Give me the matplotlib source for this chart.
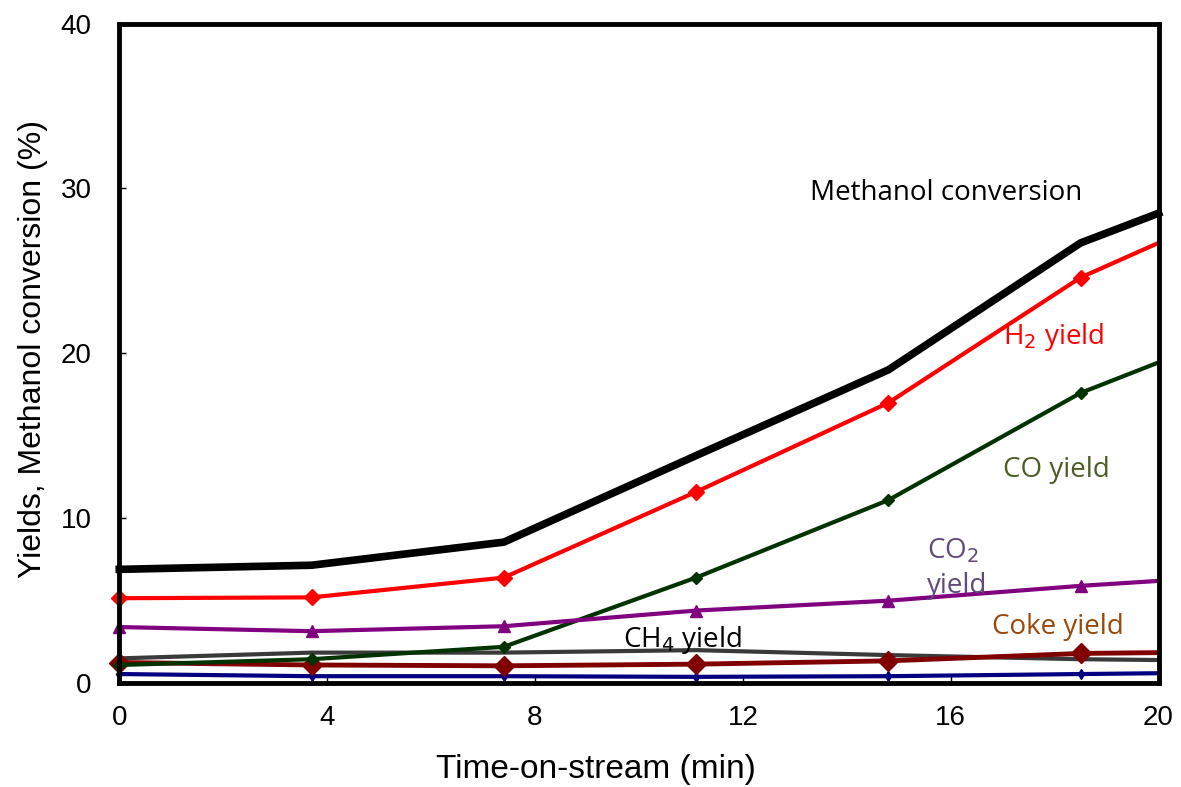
import matplotlib
matplotlib.use('Agg')
import matplotlib.pyplot as plt

# Time-on-stream (min); last point sits on the right edge of the axis
time_min = [0, 3.7, 7.4, 11.1, 14.8, 18.5, 20]

methanol_conv = [6.9, 7.15, 8.55, 13.8, 19.0, 26.7, 28.5]
h2_yield = [5.15, 5.2, 6.4, 11.6, 17.0, 24.6, 26.7]
co_yield = [1.1, 1.45, 2.2, 6.4, 11.1, 17.6, 19.45]
co2_yield = [3.4, 3.15, 3.45, 4.4, 5.0, 5.9, 6.2]
ch4_yield = [1.5, 1.85, 1.85, 2.0, 1.7, 1.45, 1.4]
coke_yield = [1.25, 1.1, 1.05, 1.15, 1.35, 1.8, 1.85]
other_yield = [0.55, 0.42, 0.42, 0.38, 0.42, 0.55, 0.6]

marks = list(range(len(time_min) - 1))

fig = plt.figure(figsize=(11.81, 7.87), dpi=100)
ax = fig.add_axes([0.101, 0.132, 0.880, 0.838])

ax.plot(time_min, other_yield, color='#000080', lw=3, marker='d', ms=5, markevery=marks, clip_on=False)
ax.plot(time_min, ch4_yield, color='#3a3a3a', lw=3, clip_on=False)
ax.plot(time_min, coke_yield, color='#800000', lw=3.5, marker='D', ms=10, markevery=marks, clip_on=False)
ax.plot(time_min, co_yield, color='#003300', lw=3, marker='D', ms=6, markevery=marks, clip_on=False)
ax.plot(time_min, co2_yield, color='#800080', lw=3, marker='^', ms=9, markevery=marks, clip_on=False)
ax.plot(time_min, h2_yield, color='#ff0000', lw=3, marker='D', ms=8, markevery=marks, clip_on=False)
ax.plot(time_min, methanol_conv, color='black', lw=5.5, clip_on=False)

ax.set_xlim(0, 20)
ax.set_ylim(0, 40)
ax.set_xticks([0, 4, 8, 12, 16, 20])
ax.set_yticks([0, 10, 20, 30, 40])

for s in ax.spines.values():
    s.set_linewidth(3.5)
ax.tick_params(axis='both', direction='in', length=5, width=1, labelsize=20)
ax.tick_params(axis='x', pad=16)
ax.tick_params(axis='y', pad=20)
for lbl in ax.get_xticklabels() + ax.get_yticklabels():
    lbl.set_family('Liberation Sans')

ax.set_xlabel('Time-on-stream (min)', fontsize=24, family='Liberation Sans')
ax.xaxis.set_label_coords(0.459, -0.108)
ax.set_ylabel('Yields, Methanol conversion (%)', fontsize=23, family='Liberation Sans')
ax.yaxis.set_label_coords(-0.069, 0.506)

lab = dict(fontsize=20, family='Open Sans')
ax.text(13.3, 29.75, 'Methanol conversion', color='black', ha='left', va='center', **lab)
ax.text(17.0, 21.0, 'H$_2$ yield', color='#ff0000', ha='left', va='center', **lab)
ax.text(17.0, 12.9, 'CO yield', color='#4a5e23', ha='left', va='center', **lab)
ax.text(15.55, 8.05, 'CO$_2$', color='#604a7b', ha='left', va='center', **lab)
ax.text(15.55, 5.9, 'yield', color='#604a7b', ha='left', va='center', **lab)
ax.text(16.8, 3.4, 'Coke yield', color='#984807', ha='left', va='center', **lab)
ax.text(9.7, 2.6, 'CH$_4$ yield', color='black', ha='left', va='center', **lab)

fig.savefig('out.png', dpi=100)
